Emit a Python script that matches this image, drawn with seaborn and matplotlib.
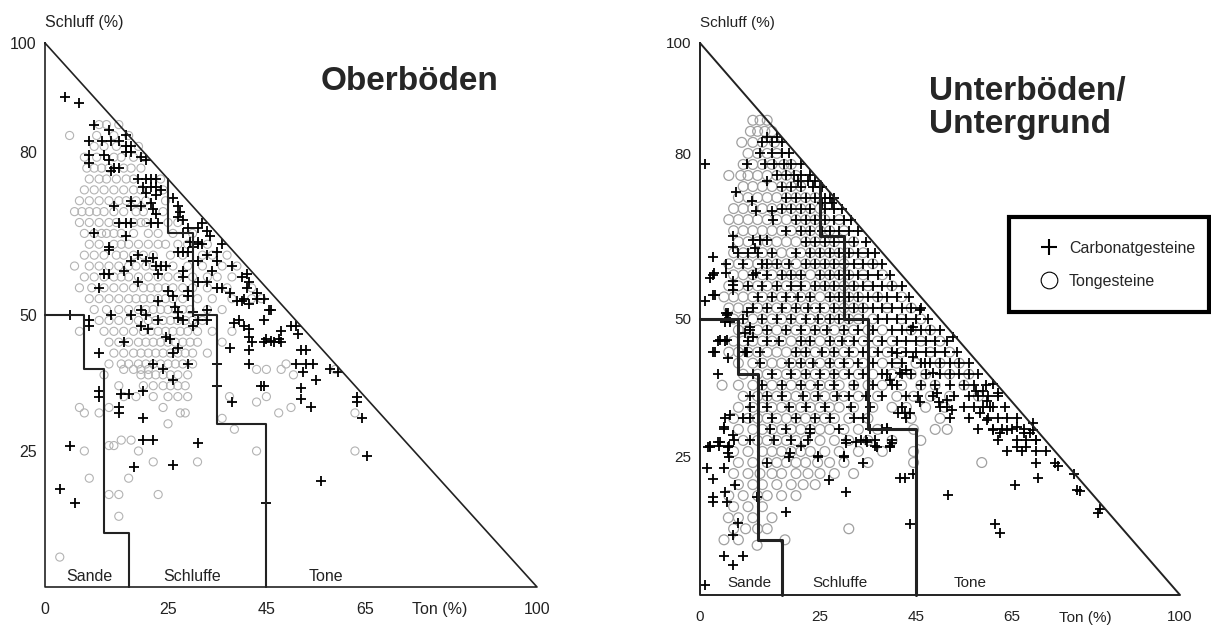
import matplotlib
matplotlib.use("Agg")
import matplotlib.pyplot as plt
from matplotlib.lines import Line2D
import seaborn as sns
import pandas as pd

# ---------------- data (Ton %, Schluff %) ----------------
# Oberböden – Carbonatgesteine (+)
ober_carb = [
    (4, 90), (7, 89), (10, 85), (13, 84),
    (9, 82), (11.5, 82), (13.5, 82), (15, 82), (16.5, 83),
    (16.5, 81), (17.5, 81), (16.5, 80), (17.5, 80),
    (9, 79.5), (9, 78), (12, 79.5), (13, 78.5), (14, 77), (13.5, 76.5), (15, 77),
    (19.5, 79), (20.5, 78.5),
    (19, 75), (20.5, 75), (21.5, 75), (22.5, 75), (20, 73.5), (21.5, 73.5), (22.5, 73.5),
    (20.5, 72.5), (23.5, 73), (22.5, 72),
    (17.5, 71), (17.5, 70), (19.5, 70), (21.5, 70.5), (22, 69.5), (14, 70),
    (15, 67), (16.5, 67), (17.5, 67), (21.5, 67), (23, 67), (22.5, 68.5),
    (10, 65), (16.5, 64.5), (13, 62.5),
    (26, 71.5), (27, 70), (27.5, 69), (27, 68), (28, 67.5), (29, 66), (28, 65), (29.5, 63.5),
    (31, 63.5), (31, 66), (32, 67), (33, 65.5), (33.5, 64.5), (36, 63), (32, 63),
    (13, 62), (17.5, 60), (19, 61), (20.5, 60), (22, 60.5), (22.5, 59), (23.5, 59), (23, 57.5), (24.5, 59),
    (13, 57.5), (12, 57.5), (16, 58), (19, 56), (11, 55),
    (27, 61.5), (28, 61.5), (29, 61.5), (30, 62.5), (31, 63), (30, 60), (31, 60), (33, 61), (35, 61.5),
    (35, 60), (38, 59), (34, 58), (28, 58), (28, 57),
    (31, 56), (33, 56), (35, 55), (36, 55), (37.5, 54), (29, 54.5), (29, 53.5),
    (40, 57), (41, 57.5), (41.5, 56), (41, 55), (43, 54), (44.5, 53), (39, 52.5), (40, 52.5),
    (40.5, 53), (41.5, 52), (43, 53), (45.5, 51),
    (25, 54.5), (26, 53.5), (26.5, 51.5), (27, 50.5), (27, 49.5), (28, 49),
    (23, 52.5), (23, 49), (19.5, 51), (20.5, 50), (19.5, 48), (21, 47.5),
    (13.5, 50), (17.5, 50), (5, 50), (9, 49), (9, 48),
    (30, 50.5), (31, 49), (33, 51), (30, 48), (33, 49),
    (24.5, 46), (25.5, 45.5), (27, 44), (26, 43), (16, 45), (11, 43),
    (22, 41), (24, 40), (29, 41), (26, 38),
    (38.5, 48.5), (39.5, 49), (40.5, 48), (41.5, 47.5), (44.5, 49), (48, 47), (47.5, 45.5),
    (45, 45.5), (46.5, 45), (41.5, 46), (42, 45), (41.5, 43.5), (41.5, 41), (37.5, 44),
    (44.5, 37), (38, 34), (35, 41), (35, 37),
    (51, 48), (51.5, 46.5), (46, 51), (44.5, 45), (46, 45.2), (48, 45), (50, 48),
    (11, 36), (11, 35), (15.5, 35.5), (17, 35.5), (20, 36), (15, 33), (15, 32), (20, 31),
    (20, 27), (22, 27), (31, 26.5), (26, 22.5), (18, 22), (5, 26), (3, 18), (6, 15.5), (45, 15.5),
    (52, 43.5), (53, 43.5), (51, 41), (53, 41), (54.5, 41), (52.5, 39.5), (55, 38), (52, 36.5),
    (52, 34.5), (54, 33), (58, 40), (59.5, 39.5), (63.5, 35), (63.5, 34), (64.5, 31),
    (65.5, 24), (56, 19.5), (44, 37),
]

# Oberböden – Tongesteine (o), rows: (Schluff, [Ton, ...])
ober_ton_rows = [
    (85, [11, 12.5, 15]),
    (83, [5, 10.5, 14, 17]),
    (81, [10, 12, 14.5, 19]),
    (79, [8, 10.5, 14, 15.5, 18, 20]),
    (77, [8.5, 10, 11.5, 13, 16, 17.5, 19.5]),
    (75, [9, 11, 12.5, 14.5, 16.5, 18, 23.5]),
    (73, [8, 10, 12, 14, 16, 18, 19.5, 24]),
    (71, [7, 9, 11, 13, 15, 16.5, 18.5, 20.5, 24.5]),
    (69, [6, 7.5, 9, 10.5, 12, 14, 16, 18.5, 20, 24]),
    (67, [7, 9, 11, 13, 14.5, 18, 19.5, 20.5, 25, 27]),
    (65, [8, 10, 11.5, 12.5, 14, 15.5, 18, 21, 23, 26, 30]),
    (63, [9, 11, 14, 15.5, 17, 19, 21, 23, 24.5, 27, 29, 33]),
    (61, [8, 10, 12, 14.5, 16, 18, 20, 22, 25.5, 28, 32, 34, 37]),
    (59, [6, 9, 11, 13, 15, 17, 18.5, 20.5, 22, 24, 26, 29, 32, 36, 39]),
    (57, [8, 10, 12, 14, 15.5, 17, 19, 21, 23, 25, 27, 30, 33, 35, 38]),
    (55, [7, 9.5, 12, 14, 16, 18, 20, 21.5, 23, 24.5, 26, 28, 30, 33, 37, 42]),
    (53, [9, 11, 13, 15, 17, 18.5, 20, 21.5, 23, 24.5, 26, 28, 31, 34, 38, 42, 44]),
    (51, [10, 12.5, 15, 17, 19, 20.5, 22, 23.5, 25, 26.5, 28, 29.5, 33, 36]),
    (49, [11, 13, 15, 17, 19, 21, 22.5, 24, 25.5, 27, 28.5, 30, 32]),
    (47, [7, 12, 14, 16, 18, 20, 21.5, 23, 24.5, 26, 27.5, 29, 31, 34, 38]),
    (45, [13, 15, 17, 19, 20.5, 22, 23.5, 25, 26.5, 28, 29.5, 31, 36]),
    (43, [14, 16, 18, 19.5, 21, 22.5, 24, 25.5, 27, 28.5, 30, 33]),
    (41, [13, 15.5, 17, 19, 20.5, 22, 23.5, 25, 26.5, 28, 30, 49]),
    (40, [16, 18, 19.5, 21, 43, 45, 48, 59]),
    (39, [12, 19.5, 21, 22.5, 24, 25.5, 27, 29, 50.5]),
    (37, [15, 20, 22, 24, 25.5, 27, 28.5]),
    (35, [16, 18.5, 22, 25, 27, 29, 37.5, 45]),
    (34, [43]),
    (33, [7, 13, 24, 50]),
    (32, [8, 11, 27.5, 28.5, 47.5, 63]),
    (31, [36]),
    (30, [25]),
    (29, [38.5]),
    (27, [15.5, 17.5]),
    (26, [13, 14]),
    (25, [8, 19, 43, 63]),
    (23, [22, 31]),
    (20, [9, 17]),
    (17, [13, 15, 23]),
    (13, [15]),
    (5.5, [3]),
]

# Unterböden/Untergrund – Carbonatgesteine (+), band rows along the diagonal
unter_carb_rows = [
    (83, [14, 16]),
    (82, [13, 15, 17]),
    (80, [12.5, 15, 17, 18.5]),
    (78, [13.5, 15.5, 17.5, 19, 21]),
    (76, [16, 18, 19.5, 21, 23]),
    (75, [14, 20.5, 22.5, 24]),
    (74, [17, 19, 21, 23.5, 25, 25.5]),
    (72, [18, 20, 22, 24, 26, 27, 28]),
    (71, [25.5, 27.5]),
    (70, [17, 19, 21, 23, 26, 28, 29.5]),
    (68, [20, 22, 24, 26, 28, 30, 31.5]),
    (66, [18, 21, 23, 25.5, 27, 29, 31, 33]),
    (64, [22, 24, 26, 28, 30, 32, 34.5]),
    (62, [8, 10, 12, 15, 20, 23, 25, 27, 29, 31, 33, 35, 36.5]),
    (60, [9, 13, 16, 18.5, 22, 24, 26, 28, 30, 32, 34, 36, 38]),
    (58, [11, 14, 17, 19, 21, 25, 27, 29, 31, 33, 35, 37, 39.5]),
    (56, [10, 13, 16, 19, 21, 24, 26, 28, 30, 32, 34, 36, 38, 40, 42]),
    (54, [12, 15, 18, 20.5, 23, 27, 29, 31, 33, 35, 37, 39, 41, 43.5]),
    (52, [11, 14, 17, 20, 22.5, 25, 28, 30, 32, 34, 36, 38, 40, 42, 44, 46]),
    (50, [9, 13, 16, 19, 22, 24.5, 27, 29, 31, 34, 37, 39, 41, 43, 45, 47.5]),
    (48, [10.5, 14, 18, 21, 24, 26.5, 30, 33, 36, 40, 42, 44, 46, 48, 50]),
    (46, [10, 14, 16.5, 21, 23, 27, 29.5, 32, 35, 38, 41, 43, 45, 47, 49, 51.5]),
    (44, [9.5, 12.5, 20, 22, 25.5, 28, 31, 34, 37, 40, 43, 45, 47, 49, 51, 53.5]),
    (42, [12.5, 18.5, 21, 23.5, 27, 30, 33, 36, 40, 42, 46, 48, 50, 52, 54, 56]),
    (40, [11, 15, 19, 22, 25, 28, 31, 34, 38, 39, 42, 44, 47, 50, 52, 54, 56, 58]),
    (38, [13, 17, 21, 24.5, 28, 32, 36, 40, 41, 46, 49, 52, 55, 57, 59.5]),
    (36, [10.5, 14, 17, 21.5, 24.5, 28.5, 31, 34.5, 38, 43, 45.5, 48.5, 53, 56, 58, 60, 62]),
    (34, [10.5, 14, 18.5, 22, 26, 31.5, 35.5, 42, 50, 51.5, 55, 57, 59, 61, 63.5]),
    (32, [9, 10.5, 15, 20, 24, 27, 32, 34, 43, 52, 56, 60, 62, 64, 66]),
    (30, [5, 14.5, 18, 23, 29, 35.5, 38, 39, 58, 61, 63, 65, 67.5]),
    (28, [7, 10.5, 15.5, 19, 22.5, 30.5, 33.5, 34.5, 36.5, 40, 62, 66, 68, 70]),
    (27, [2, 4, 6, 21, 36.5, 39.5]),
    (26, [64, 67, 70, 72]),
    (25, [6, 18.5, 24.5, 30]),
    (24, [70, 74]),
    (22, [78]),
]

# Unterböden/Untergrund – Carbonatgesteine (+), scattered points
unter_carb_pts = [
    (1, 78), (9.7, 78), (7.6, 73), (10.8, 71.3), (11.7, 69.5), (15, 69.5), (15.3, 68),
    (6.9, 65), (6.9, 63), (2.7, 61.3), (5.4, 60), (2, 57.4), (3, 58.3), (5.4, 58.3),
    (6.9, 56.8), (6.9, 55.3), (1, 53.2), (2.7, 54.4), (11, 64.4), (12.5, 64.4), (11.5, 62.8),
    (14, 64.4), (11.7, 58.3), (13.9, 60), (9.7, 51.3), (5.4, 51),
    (2.8, 58), (6.9, 56.2), (3.1, 54.3), (5.9, 51), (6.2, 49.5), (5.2, 49.5), (3.8, 46),
    (5.2, 46), (2.8, 44), (5.9, 43), (3.8, 40), (9.7, 44), (9.4, 47.4), (10.4, 48.6), (11.1, 46.8),
    (5.6, 50.7), (4.2, 46.2), (5.6, 46.2), (3.1, 44.1), (9.4, 44.1),
    (6.2, 32.6), (4.9, 30.5), (6.9, 29), (2.1, 26.9), (4.2, 27.8), (5.9, 25.7), (1.7, 26.9),
    (3.8, 27.8), (5.9, 26.9), (5.2, 32.1), (1.4, 23), (4.9, 23), (2.8, 21), (2.8, 17.8),
    (2.8, 16.9), (5.2, 18.7), (7.3, 19.9), (5.6, 16.9), (6.9, 10.8), (8, 13), (4.9, 7),
    (6.9, 5.4), (9, 7), (1, 1.8),
    (18, 15), (11.9, 17.8), (14, 23.9), (18.7, 25.7), (26.8, 20.9), (30.5, 18.7), (34, 23.9),
    (29.9, 25.1), (30.5, 27.5), (24.6, 25.1), (22.9, 29.3), (32.6, 27.8), (34.7, 27.8),
    (36.8, 26.9), (39.6, 26.9), (38.9, 30.2),
    (41.3, 32.9), (42.7, 32.9), (43.8, 32.9), (44.4, 22), (39.9, 27.5), (41.7, 21.2),
    (42.7, 21.2), (43.8, 12.9), (51.7, 18.1), (61.5, 12.9), (62.5, 11.2), (65.6, 20),
    (70.5, 21.2), (74.6, 23.3), (78.5, 19.1), (79.2, 18.8), (82.9, 14.9), (83.3, 15.5),
    (52.8, 46.8), (45.8, 35), (49.3, 36.6), (49.7, 35), (51.4, 35.3), (52.4, 33.5),
    (48.6, 40.2), (46.9, 42), (44.4, 43.2), (43, 40.8), (41.7, 40.2), (39.6, 39), (41, 43.8),
    (44.4, 48.6), (45.8, 51.6),
    (58.3, 33), (59.7, 31.7), (61.1, 29.9), (62.5, 29.3), (63.9, 29.9), (66, 30.5),
    (67.4, 29.3), (68.8, 29.3), (69.4, 29.9), (70.1, 28.1), (68, 26.9), (66, 26.9),
    (69.4, 31.1), (57.6, 37), (59, 37), (59.7, 35.2), (60.4, 34), (61, 38.3), (62, 36.6),
]

# Unterböden/Untergrund – Tongesteine (o), rows: (Schluff, [Ton, ...])
unter_ton_rows = [
    (86, [11, 12.5, 14]),
    (84, [10.5, 12, 13.5, 15]),
    (82, [8.7, 11, 13, 15.5]),
    (80, [10, 12, 14, 16]),
    (78, [9, 11, 13, 15, 17.5, 19]),
    (76, [6, 8.5, 10, 12, 14, 16, 18, 20]),
    (74, [9, 11, 13, 15, 17, 19, 21]),
    (72, [8, 10, 12, 14, 16, 18, 20, 22, 24]),
    (70, [7, 9, 11, 13, 15, 17, 19, 21, 23, 25]),
    (68, [6, 8, 10, 12, 14, 16, 18, 20, 22, 24, 26, 29]),
    (66, [7, 9, 11, 13, 15, 17, 19, 21, 23, 25, 27, 30]),
    (64, [8, 10, 12, 14, 16, 18, 20, 22, 24, 26, 28, 32]),
    (62, [7, 9, 11, 13, 15, 17, 19, 21, 23, 25, 27, 29, 31, 34]),
    (60, [6, 8, 10, 12, 14, 16, 18, 20, 22, 24, 26, 28, 30, 33, 36]),
    (58, [7, 9, 11, 13, 15, 17, 19, 21, 23, 25, 27, 29, 31, 34, 38]),
    (56, [6, 8, 10, 12, 14, 16, 18, 20, 22, 24, 26, 28, 30, 32, 35, 40]),
    (54, [5, 7, 9, 11, 13, 15, 17, 19, 21, 23, 25, 27, 29, 31, 33, 37, 42]),
    (52, [6, 8, 10, 12, 14, 16, 18, 20, 22, 24, 26, 28, 30, 32, 34, 39, 44]),
    (50, [7, 9, 11, 13, 15, 17, 19, 21, 23, 25, 27, 29, 31, 33, 36, 42, 46]),
    (48, [8, 10, 12, 14, 16, 18, 20, 22, 24, 26, 28, 30, 32, 35, 38, 44, 48]),
    (46, [7, 9, 11, 13, 15, 17, 19, 21, 23, 25, 27, 29, 31, 34, 37, 40, 46, 50]),
    (44, [6, 8, 10, 12, 14, 16, 18, 20, 22, 24, 26, 28, 30, 32, 36, 39, 42, 48, 52]),
    (42, [8, 11, 13, 15, 17, 19, 21, 23, 25, 27, 29, 31, 34, 38, 41, 45, 50, 54]),
    (40, [9, 12, 14, 16, 18, 20, 22, 24, 26, 28, 30, 33, 36, 40, 44, 47, 52, 56]),
    (38, [4.6, 8, 11, 13, 15, 17, 19, 21, 23, 25, 27, 29, 32, 35, 38, 42, 46, 49, 55]),
    (36, [9, 12, 14, 16, 18, 20, 22, 24, 26, 28, 30, 33, 37, 41, 44.5, 48, 52, 58]),
    (34, [8, 11, 13, 15, 17, 19, 21, 23, 25, 27, 29, 32, 36, 40, 43, 47, 51]),
    (32, [7, 10, 12, 14, 16, 18, 20, 22, 24, 26, 28, 31, 35, 44, 50]),
    (30, [8, 11, 13, 15, 17, 19, 21, 23, 25, 27, 30, 33, 37, 44.5, 49, 51.5]),
    (28, [9, 12, 14, 16, 18, 20, 22, 25, 28, 31, 35, 40, 46]),
    (26, [7, 10, 13, 15, 17, 19, 21, 23, 26, 29, 33, 38, 44.5]),
    (24, [8, 11, 14, 16, 18, 20, 22, 24.5, 27, 30, 35, 44.5, 58.7]),
    (22, [7, 10, 12.5, 15, 17, 20, 22.5, 25, 28, 32]),
    (20, [8, 11, 13, 16, 19, 21.5, 24]),
    (18, [6, 9, 12, 14, 17, 20]),
    (16, [7, 10, 13]),
    (14, [5.9, 8, 11, 15]),
    (12, [7, 9.5, 12, 14, 31]),
    (10, [5, 8, 17.7]),
    (9, [11.9]),
]

# class boundaries (Ton, Schluff)
sande_ton = [0, 8, 8, 12, 12, 17, 17]
sande_schluff = [50, 50, 40, 40, 10, 10, 0]
tone_ton = [25, 25, 30, 30, 35, 35, 45, 45]
tone_schluff = [75, 65, 65, 50, 50, 30, 30, 0]

x_ticks = [0, 25, 45, 65, 100]
y_ticks = [25, 50, 80, 100]
class_labels = ["Sande", "Schluffe", "Tone"]
legend_labels = ["Carbonatgesteine", "Tongesteine"]


def pts_df(pts):
    return pd.DataFrame(pts, columns=["ton", "schluff"])


def rows_df(rows):
    return pd.DataFrame([(t, s) for s, ts in rows for t in ts], columns=["ton", "schluff"])


# ---------------- figure ----------------
sns.set_style("white")
plt.rcParams["font.family"] = ["Liberation Sans", "DejaVu Sans"]

W, H = 1211, 625
fig = plt.figure(figsize=(W / 100, H / 100), dpi=100)

# axes rectangles in pixels: (x0, x100, y0, y100)
panels = [
    dict(x0=45, x1=537, y0=587, y1=43, lw_tri=1.2, lw_cls=1.5, ps=52, cs=34, fs=11.5,
         cc="#b3b3b3", clw=0.8),
    dict(x0=700, x1=1180, y0=595, y1=43, lw_tri=1.4, lw_cls=2.2, ps=60, cs=50, fs=11,
         cc="#a0a0a0", clw=0.9),
]
axes = []
for p in panels:
    ax = fig.add_axes([p["x0"] / W, 1 - p["y0"] / H, (p["x1"] - p["x0"]) / W, (p["y0"] - p["y1"]) / H])
    ax.set_xlim(0, 100)
    ax.set_ylim(0, 100)
    for sp in ax.spines.values():
        sp.set_visible(False)
    axes.append(ax)

datasets = [
    (pts_df(ober_carb), rows_df(ober_ton_rows)),
    (pd.concat([rows_df(unter_carb_rows), pts_df(unter_carb_pts)], ignore_index=True), rows_df(unter_ton_rows)),
]

label_pos = [
    [(9.1, 2.0), (30, 2.0), (57, 2.0)],
    [(10.4, 2.2), (29.2, 2.2), (56.3, 2.2)],
]

for ax, p, (carb, ton), lp in zip(axes, panels, datasets, label_pos):
    sns.scatterplot(data=ton, x="ton", y="schluff", marker="o", s=p["cs"], facecolor="none",
                    edgecolor=p["cc"], linewidth=p["clw"], ax=ax, clip_on=False, zorder=2)
    sns.scatterplot(data=carb, x="ton", y="schluff", marker="+", s=p["ps"], color="black",
                    linewidth=1.3, ax=ax, clip_on=False, zorder=3)
    ax.plot([0, 0, 100, 0], [100, 0, 0, 100], color="#222222", lw=p["lw_tri"], clip_on=False, zorder=4)
    ax.plot(sande_ton, sande_schluff, color="#222222", lw=p["lw_cls"], clip_on=False, zorder=4)
    ax.plot(tone_ton, tone_schluff, color="#222222", lw=p["lw_cls"], clip_on=False, zorder=4)
    ax.set_xticks(x_ticks)
    ax.set_yticks(y_ticks)
    ax.set_xticklabels([str(v) for v in x_ticks], fontsize=p["fs"], color="#222222")
    ax.set_yticklabels([str(v) for v in y_ticks], fontsize=p["fs"], color="#222222")
    ax.tick_params(axis="both", length=0)
    ax.tick_params(axis="x", pad=11)
    ax.tick_params(axis="y", pad=6)
    ax.set_xlabel("")
    ax.set_ylabel("")
    ax.text(0, 103.7, "Schluff (%)", ha="left", va="center", fontsize=p["fs"], color="#222222")
    ax.text(80.3, -4.2, "Ton (%)", ha="center", va="center", fontsize=p["fs"], color="#222222")
    for (tx, ty), lab in zip(lp, class_labels):
        ax.text(tx, ty, lab, ha="center", va="center", fontsize=p["fs"], color="#222222", zorder=5)

# titles
fig.text(410 / W, 1 - 82 / H, "Oberböden", ha="center", va="center", fontsize=24, fontweight="bold")
fig.text(929 / W, 1 - 108 / H, "Unterböden/\nUntergrund", ha="left", va="center", fontsize=24,
         fontweight="bold", linespacing=1.1)

# legend
handles = [
    Line2D([], [], marker="+", linestyle="none", color="black", markersize=12, markeredgewidth=1.5),
    Line2D([], [], marker="o", linestyle="none", markerfacecolor="none", markeredgecolor="black",
           markersize=12, markeredgewidth=0.8),
]
leg = fig.legend(handles, legend_labels, loc="upper left",
                 bbox_to_anchor=(1009 / W, 1 - 317 / H, 200 / W, 100 / H), mode="expand",
                 frameon=True, fancybox=False, edgecolor="black", framealpha=1,
                 fontsize=11.5, borderpad=1.5, labelspacing=1.1, handletextpad=0.25,
                 handlelength=2.0, borderaxespad=0)
leg.get_frame().set_linewidth(3)

fig.savefig("out.png", dpi=100)
